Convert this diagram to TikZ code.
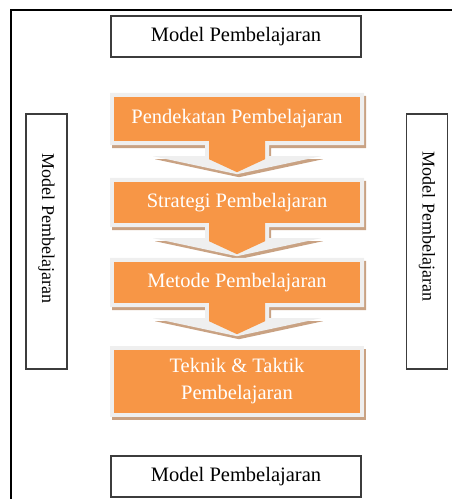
\documentclass[tikz,border=0pt]{standalone}
\usepackage{fontspec}
\setmainfont{Liberation Serif}

\definecolor{stepfill}{HTML}{F79646}
\definecolor{rimgray}{HTML}{EFEFEF}
\definecolor{rimshade}{HTML}{C9A283}
\definecolor{boxline}{HTML}{3C3C3C}

\pgfdeclarelayer{shade}
\pgfdeclarelayer{rim}
\pgfsetlayers{shade,rim,main}

% outline of a step box with its down arrow, moved by (#2,#3)
\newcommand\stepoutline[3]{%
  ([shift={(-127+#2,-4+#3)}]#1.north) -- ([shift={(127+#2,-4+#3)}]#1.north)
  -- ([shift={(127+#2,4+#3)}]#1.south) -- ([shift={(32+#2,4+#3)}]#1.south)
  -- ([shift={(32+#2,15+#3)}]#1.south) -- ([shift={(84+#2,15+#3)}]#1.south)
  -- ([shift={(#2,33+#3)}]#1.south) -- ([shift={(-84+#2,15+#3)}]#1.south)
  -- ([shift={(-32+#2,15+#3)}]#1.south) -- ([shift={(-32+#2,4+#3)}]#1.south)
  -- ([shift={(-127+#2,4+#3)}]#1.south) -- cycle}

% gray rim, shadow and orange stem of a step box
\newcommand\stepdeco[1]{%
  \begin{pgfonlayer}{shade}
    \fill[rimshade] \stepoutline{#1}{2}{3};
  \end{pgfonlayer}
  \begin{pgfonlayer}{rim}
    \fill[rimgray] \stepoutline{#1}{0}{0};
  \end{pgfonlayer}
  \fill[stepfill]
    ([shift={(-28,-0.5)}]#1.south) -- ([shift={(28,-0.5)}]#1.south)
    -- ([shift={(28,18)}]#1.south) -- ([shift={(0,31)}]#1.south)
    -- ([shift={(-28,18)}]#1.south) -- cycle;
}

\begin{document}
\begin{tikzpicture}[x=1pt,y=-1pt,
  modelbox/.style={draw=boxline, line width=1.4pt, fill=white, inner sep=0pt,
    font=\fontsize{20.5}{24}\selectfont},
  sidebox/.style={modelbox, rotate=-90, minimum width=255pt, minimum height=41pt,
    font=\fontsize{18}{22}\selectfont},
  stepbox/.style={fill=stepfill, text=white, inner sep=0pt, minimum width=246pt,
    align=center, font=\fontsize{20.5}{27}\selectfont},
]
\useasboundingbox (0,0) rectangle (452,499);

% outer frame (runs past the right and bottom edges)
\draw[line width=1.3pt] (11,520) |- (470,10);

% surrounding "model" labels
\node[modelbox, minimum width=250pt, minimum height=41pt] (mtop) at (236,36.5) {Model Pembelajaran};
\node[modelbox, minimum width=250pt, minimum height=41pt] (mbot) at (236,476.5) {Model Pembelajaran};
\node[sidebox] (mleft) at (46.5,241.5) {Model Pembelajaran\hspace*{26pt}};
\node[sidebox] (mright) at (427,241.5) {Model Pembelajaran\hspace*{30pt}};

% the four steps
\node[stepbox, minimum height=44pt] (p1) at (237,119) {Pendekatan Pembelajaran};
\node[stepbox, minimum height=41pt] (p2) at (237,202.5) {Strategi Pembelajaran};
\node[stepbox, minimum height=41pt] (p3) at (237,282.5) {Metode Pembelajaran};
\node[stepbox, minimum height=63pt] (p4) at (237,381.5) {Teknik \& Taktik\\Pembelajaran};

\stepdeco{p1}
\stepdeco{p2}
\stepdeco{p3}

% last step: rim and shadow only
\begin{pgfonlayer}{shade}
  \fill[rimshade] ([shift={(-2,-1)}]p4.north west) rectangle ([shift={(6,7)}]p4.south east);
\end{pgfonlayer}
\begin{pgfonlayer}{rim}
  \fill[rimgray] ([shift={(-4,-4)}]p4.north west) rectangle ([shift={(4,4)}]p4.south east);
\end{pgfonlayer}
\end{tikzpicture}
\end{document}
